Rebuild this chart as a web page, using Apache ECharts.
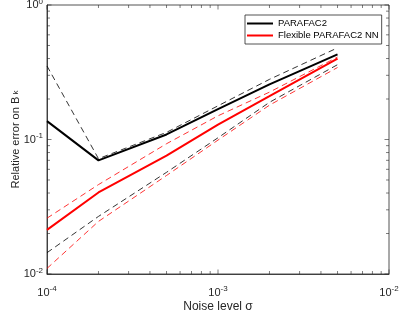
<!DOCTYPE html>
<html><head><meta charset="utf-8">
<script src="https://cdn.jsdelivr.net/npm/echarts@6/dist/echarts.min.js"></script>
<style>html,body{margin:0;padding:0;background:#fff}#c{width:399px;height:313px}</style>
</head><body><div id="c"></div>
<script>
const noise = [1e-4, 2e-4, 5e-4, 1e-3, 2e-3, 5e-3];
const parafac2 = [0.137, 0.070, 0.109, 0.168, 0.257, 0.43];
const parafac2Upper = [0.352, 0.072, 0.113, 0.178, 0.28, 0.48];
const parafac2Lower = [0.0144, 0.0268, 0.057, 0.103, 0.189, 0.36];
const flexNN = [0.0213, 0.0404, 0.076, 0.129, 0.21, 0.40];
const flexNNUpper = [0.026, 0.0462, 0.093, 0.150, 0.225, 0.41];
const flexNNLower = [0.011, 0.0246, 0.054, 0.099, 0.18, 0.343];
const xDecades = [1e-4, 1e-3];
const yDecades = [1e-2, 1e-1];
const minorMult = [2, 3, 4, 5, 6, 7, 8, 9];
const xMin = 1e-4, xMax = 1e-2, yMin = 1e-2, yMax = 1;

const FONT = 'Liberation Sans';
function pairs(ys){ return noise.map((x,i)=>[x, ys[i]]); }
function supFmt(v){
  const e = Math.round(Math.log10(v));
  return '{b|10}{s|' + e + '}';
}
const rich = {
  b:{fontFamily:FONT,fontSize:11,color:'#262626'},
  s:{fontFamily:FONT,fontSize:8,color:'#262626',padding:[0,0,7,0]}
};
const xMinor = [], yMinor = [];
xDecades.forEach(d=>minorMult.forEach(m=>xMinor.push([d*m, yMin])));
yDecades.forEach(d=>minorMult.forEach(m=>yMinor.push([xMin, d*m])));

function tickSeries(data, isX, len){
  return {
    type:'custom', silent:true, clip:false, z:5,
    data:data,
    renderItem:function(params, api){
      const v = isX ? api.value(0) : api.value(1);
      let p1, p2, ch = [];
      const st = {stroke:'#262626', lineWidth:0.6};
      if(isX){
        p1 = api.coord([v, yMin]); p2 = api.coord([v, yMax]);
        ch.push({type:'line',shape:{x1:p1[0],y1:p1[1],x2:p1[0],y2:p1[1]-len},style:st});
        ch.push({type:'line',shape:{x1:p2[0],y1:p2[1],x2:p2[0],y2:p2[1]+len},style:st});
      } else {
        p1 = api.coord([xMin, v]); p2 = api.coord([xMax, v]);
        ch.push({type:'line',shape:{x1:p1[0],y1:p1[1],x2:p1[0]+len,y2:p1[1]},style:st});
        ch.push({type:'line',shape:{x1:p2[0],y1:p2[1],x2:p2[0]-len,y2:p2[1]},style:st});
      }
      return {type:'group', children:ch};
    }
  };
}
const xMajor = [1e-4,1e-3,1e-2].map(v=>[v,yMin]);
const yMajor = [1e-2,1e-1,1].map(v=>[xMin,v]);

const chart = echarts.init(document.getElementById('c'), null, {renderer:'canvas'});
const dashStyle = (c)=>({color:c, width:0.8, type:[6,4]});
chart.setOption({
  animation:false,
  backgroundColor:'#fff',
  grid:{left:47, right:10, top:5, bottom:39, containLabel:false, outerBoundsMode:'none',
    show:true, borderColor:'#262626', borderWidth:0.8, backgroundColor:'#fff'},
  xAxis:{type:'log', logBase:10, min:xMin, max:xMax,
    name:'Noise level σ', nameLocation:'middle', nameGap:27, nameMoveOverlap:false,
    nameTextStyle:{fontFamily:FONT,fontSize:12,color:'#262626'},
    axisLine:{show:true,lineStyle:{color:'#262626',width:0.8}},
    axisTick:{show:false}, splitLine:{show:false},
    axisLabel:{formatter:supFmt, rich:rich, margin:11}},
  yAxis:{type:'log', logBase:10, min:yMin, max:yMax,
    name:'{n|Relative error on B}{k| k}', nameLocation:'middle', nameGap:26, nameMoveOverlap:false,
    nameTextStyle:{rich:{n:{fontFamily:FONT,fontSize:11,color:'#262626'},k:{fontFamily:FONT,fontSize:8,color:'#262626'}}},
    axisLine:{show:true,lineStyle:{color:'#262626',width:0.8}},
    axisTick:{show:false}, splitLine:{show:false},
    axisLabel:{formatter:supFmt, rich:rich, margin:4}},
  legend:{
    data:[{name:'PARAFAC2',icon:'rect'},{name:'Flexible PARAFAC2 NN',icon:'rect'}],
    orient:'vertical', left:245, top:15, itemWidth:26, itemHeight:2, itemGap:1,
    padding:[3,3,3,2], borderColor:'#262626', borderWidth:0.8, backgroundColor:'#fff',
    textStyle:{fontFamily:FONT,fontSize:9.5,color:'#000',lineHeight:11}
  },
  series:[
    {name:'PARAFAC2 upper', type:'line', data:pairs(parafac2Upper), symbol:'none', lineStyle:dashStyle('#000'), z:2},
    {name:'PARAFAC2 lower', type:'line', data:pairs(parafac2Lower), symbol:'none', lineStyle:dashStyle('#000'), z:2},
    {name:'Flex upper', type:'line', data:pairs(flexNNUpper), symbol:'none', lineStyle:dashStyle('#ff0000'), z:2},
    {name:'Flex lower', type:'line', data:pairs(flexNNLower), symbol:'none', lineStyle:dashStyle('#ff0000'), z:2},
    {name:'PARAFAC2', type:'line', data:pairs(parafac2), symbol:'none', itemStyle:{color:'#000'}, lineStyle:{color:'#000', width:2}, z:3},
    {name:'Flexible PARAFAC2 NN', type:'line', data:pairs(flexNN), symbol:'none', itemStyle:{color:'#ff0000'}, lineStyle:{color:'#ff0000', width:2}, z:3},
    tickSeries(xMinor, true, 3), tickSeries(yMinor, false, 3),
    tickSeries(xMajor, true, 4.5), tickSeries(yMajor, false, 4.5)
  ]
});
</script></body></html>
